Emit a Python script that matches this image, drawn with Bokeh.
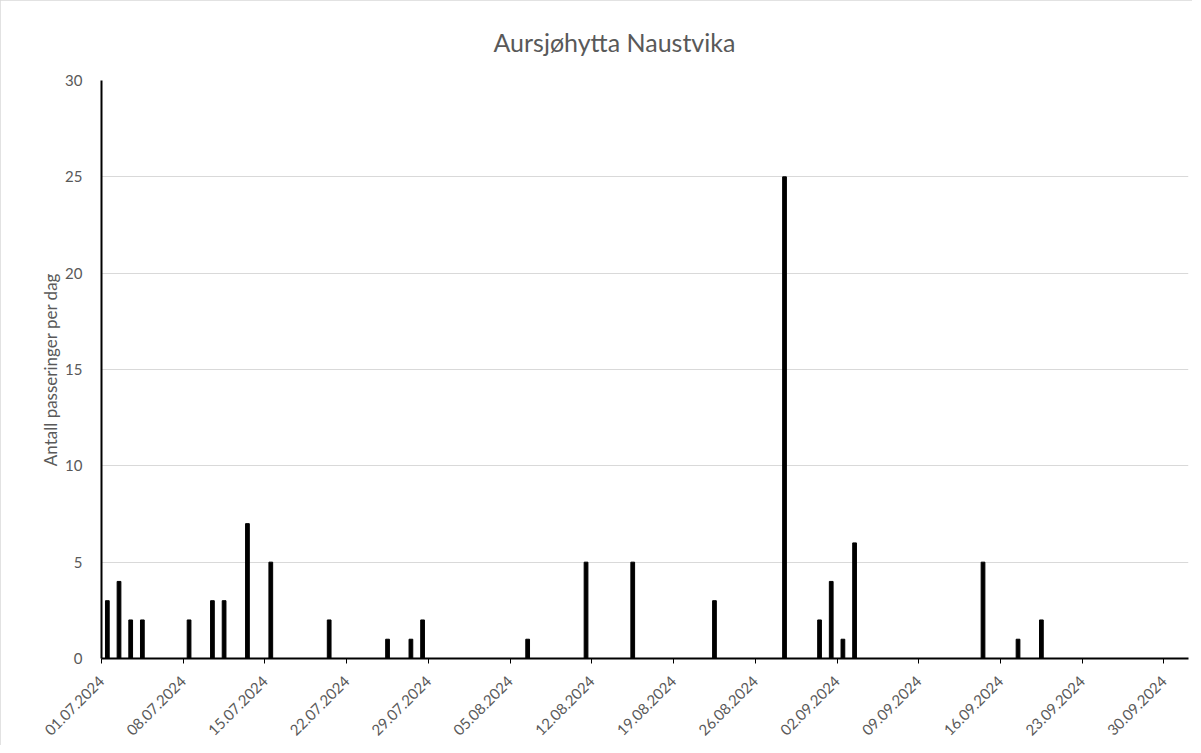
import pandas as pd
from bokeh.plotting import figure
from bokeh.models import FixedTicker, DatetimeTickFormatter, Range1d, ColumnDataSource
from bokeh.embed import file_html
from bokeh.resources import INLINE

title = "Aursjøhytta Naustvika"
y_label = "Antall passeringer per dag"

dates = ["2024-07-01", "2024-07-02", "2024-07-03", "2024-07-04", "2024-07-08",
         "2024-07-10", "2024-07-11", "2024-07-13", "2024-07-15", "2024-07-20",
         "2024-07-25", "2024-07-27", "2024-07-28", "2024-08-06", "2024-08-11",
         "2024-08-15", "2024-08-22", "2024-08-28", "2024-08-31", "2024-09-01",
         "2024-09-02", "2024-09-03", "2024-09-14", "2024-09-17", "2024-09-19"]
values = [3, 4, 2, 2, 2, 3, 3, 7, 5, 2, 1, 1, 2, 1, 5, 5, 3, 25, 2, 4, 1, 6, 5, 1, 2]

tick_dates = ["2024-07-01", "2024-07-08", "2024-07-15", "2024-07-22", "2024-07-29",
              "2024-08-05", "2024-08-12", "2024-08-19", "2024-08-26", "2024-09-02",
              "2024-09-09", "2024-09-16", "2024-09-23", "2024-09-30"]
y_ticks = [0, 5, 10, 15, 20, 25, 30]

DAY = 86400000
FONT = "Lato"
GREY = "#595959"
x = pd.to_datetime(dates) + pd.Timedelta(hours=12)
src = ColumnDataSource(dict(x=x, v=values))

start = pd.Timestamp("2024-07-01")
end = start + pd.Timedelta(days=93.1)

p = figure(width=1192, height=745, output_backend="svg", toolbar_location=None,
           x_axis_type="datetime",
           x_range=Range1d(start, end), y_range=Range1d(0, 30),
           min_border_left=101, min_border_right=4, min_border_top=80, min_border_bottom=87)

p.vbar(x="x", top="v", width=0.32 * DAY, color="black", source=src)

p.title.text = title
p.title.align = "left"
p.title.offset = 392
p.title.text_font = FONT
p.title.text_font_size = "25px"
p.title.text_font_style = "normal"
p.title.text_color = GREY
p.title.standoff = 47

p.outline_line_color = None
p.xgrid.grid_line_color = None
p.ygrid.grid_line_color = "#d9d9d9"
p.ygrid.grid_line_width = 1

xa = p.xaxis[0]
xa.ticker = FixedTicker(ticks=[pd.Timestamp(d).value // 10**6 for d in tick_dates])
xa.formatter = DatetimeTickFormatter(days="%d.%m.%Y", months="%d.%m.%Y", hours="%d.%m.%Y")
xa.major_label_orientation = 0.785398
xa.axis_line_color = "black"
xa.axis_line_width = 2
xa.major_tick_line_color = "black"
xa.major_tick_line_width = 1
xa.major_tick_out = 5
xa.major_tick_in = 0
xa.minor_tick_line_color = None
xa.major_label_text_font = FONT
xa.major_label_text_font_size = "15px"
xa.major_label_text_color = GREY
xa.major_label_standoff = 15

ya = p.yaxis[0]
ya.ticker = FixedTicker(ticks=y_ticks)
ya.axis_line_color = "black"
ya.axis_line_width = 2
ya.major_tick_line_color = None
ya.minor_tick_line_color = None
ya.major_label_text_font = FONT
ya.major_label_text_font_size = "15px"
ya.major_label_text_color = GREY
ya.major_label_standoff = 13
ya.axis_label = y_label
ya.axis_label_text_font = FONT
ya.axis_label_text_font_size = "17px"
ya.axis_label_text_font_style = "normal"
ya.axis_label_text_color = GREY
ya.axis_label_standoff = 1

p.styles = {"outline": "1px solid #d9d9d9", "outline-offset": "-1px"}

open("out.html", "w").write(file_html(p, INLINE))
